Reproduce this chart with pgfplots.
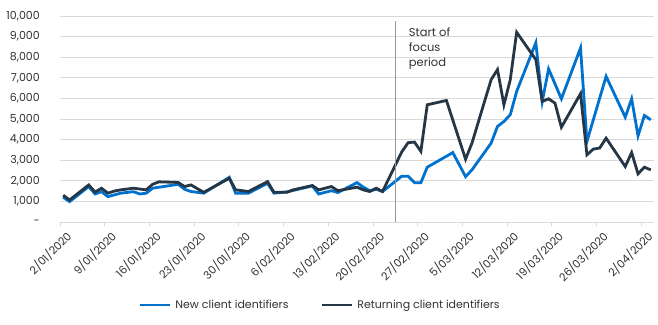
\documentclass[border=0pt]{standalone}
\usepackage{fontspec}
\setmainfont{Poppins}
\usepackage{pgfplots}
\pgfplotsset{compat=1.18}
\definecolor{newblue}{RGB}{0,114,206}
\definecolor{retdark}{RGB}{37,55,70}
\definecolor{txt}{RGB}{50,50,50}
\definecolor{gridc}{RGB}{217,217,217}
\begin{document}
\begin{tikzpicture}
\begin{axis}[
  at={(0,0)}, anchor=south west,
  scale only axis, width=594pt, height=206pt,
  xmin=0, xmax=93, ymin=0, ymax=10000,
  scaled y ticks=false,
  separate axis lines,
  axis x line*=bottom, axis y line*=left,
  y axis line style={draw=none},
  x axis line style={draw=gridc, line width=0.8pt},
  ymajorgrids, grid style={draw=gridc, line width=0.8pt},
  xtick={0,7,...,91},
  xticklabels={2/01/2020,9/01/2020,16/01/2020,23/01/2020,30/01/2020,6/02/2020,13/02/2020,20/02/2020,27/02/2020,5/03/2020,12/03/2020,19/03/2020,26/03/2020,2/04/2020},
  xtick style={draw=gridc, line width=0.8pt},
  xtick pos=lower, tick align=outside, major tick length=4pt,
  ytick={0,1000,...,10000},
  yticklabels={{-},{1,000},{2,000},{3,000},{4,000},{5,000},{6,000},{7,000},{8,000},{9,000},{10,000}},
  ytick style={draw=none},
  yticklabel style={anchor=east, inner sep=0pt, xshift=-16pt},
  xticklabel style={rotate=45, anchor=north east, inner sep=1pt, xshift=2pt, yshift=-5pt},
  tick label style={font=\fontsize{11}{13}\selectfont, text=txt},
  legend style={at={(axis description cs:0.438,-0.403)}, anchor=center, draw=none,
    font=\fontsize{11}{13}\selectfont, text=txt, legend columns=2,
    /tikz/every even column/.append style={column sep=30pt},
    /tikz/every odd column/.append style={column sep=2pt}},
  legend image code/.code={\draw[#1, line width=2.8pt] (0pt,0pt) -- (30pt,0pt);},
  clip=false,
]
\addplot[color=newblue, line width=2.8pt] coordinates {
(0.5,1200) (1.5,990) (4.5,1720) (5.5,1360) (6.5,1470) (7.5,1230) (9.5,1400)
(11.5,1470) (12.5,1360) (13.5,1400) (14.5,1640) (18.5,1830) (19.5,1590)
(20.5,1480) (22.5,1400) (26.5,2170) (27.5,1400) (29.5,1400) (32.5,1880)
(33.5,1400) (35.5,1460) (39.5,1750) (40.5,1360) (42.5,1520) (43.5,1430)
(46.5,1910) (47.5,1690) (48.5,1520) (49.5,1590) (50.5,1480) (53.5,2220)
(54.5,2220) (55.5,1910) (56.5,1910) (57.5,2660) (61.5,3370) (63.5,2200)
(64.5,2530) (67.5,3830) (68.5,4640) (69.5,4880) (70.5,5210) (71.5,6340)
(74.5,8700) (75.5,5850) (76.5,7430) (78.5,5980) (81.5,8450) (82.5,3910)
(85.5,7070) (88.5,5090) (89.5,5980) (90.5,4180) (91.5,5170) (92.5,4960)
};
\addlegendentry{New client identifiers}
\addplot[color=retdark, line width=2.8pt] coordinates {
(0.5,1300) (1.5,1070) (4.5,1800) (5.5,1450) (6.5,1640) (7.5,1400) (8.5,1500)
(9.5,1560) (11.5,1640) (13.5,1560) (14.5,1830) (15.5,1950) (18.5,1920)
(19.5,1720) (20.5,1800) (22.5,1440) (26.5,2120) (27.5,1560) (29.5,1480)
(32.5,1960) (33.5,1440) (35.5,1440) (36.5,1560) (39.5,1770) (40.5,1560)
(42.5,1720) (43.5,1520) (46.5,1690) (47.5,1560) (48.5,1480) (49.5,1640)
(50.5,1480) (53.5,3400) (54.5,3850) (55.5,3880) (56.5,3430) (57.5,5690)
(60.5,5900) (63.5,3050) (64.5,3830) (67.5,6910) (68.5,7400) (69.5,5690)
(70.5,6910) (71.5,9210) (74.5,7880) (75.5,5850) (76.5,5980) (77.5,5770)
(78.5,4600) (81.5,6230) (82.5,3260) (83.5,3540) (84.5,3590) (85.5,4070)
(88.5,2690) (89.5,3370) (90.5,2340) (91.5,2660) (92.5,2530)
};
\addlegendentry{Returning client identifiers}
\addplot[color=gray!80, line width=1.2pt, forget plot] coordinates {(52.5,0) (52.5,9750)};
\node[anchor=north west, align=left, inner sep=0pt, font=\fontsize{11.5}{15}\selectfont, text=txt]
  at (axis cs:54.6,9450) {Start of\\focus\\period};
\end{axis}
\pgfresetboundingbox
\path[use as bounding box] (-60pt,-102pt) rectangle (598pt,222pt);
\end{tikzpicture}
\end{document}
